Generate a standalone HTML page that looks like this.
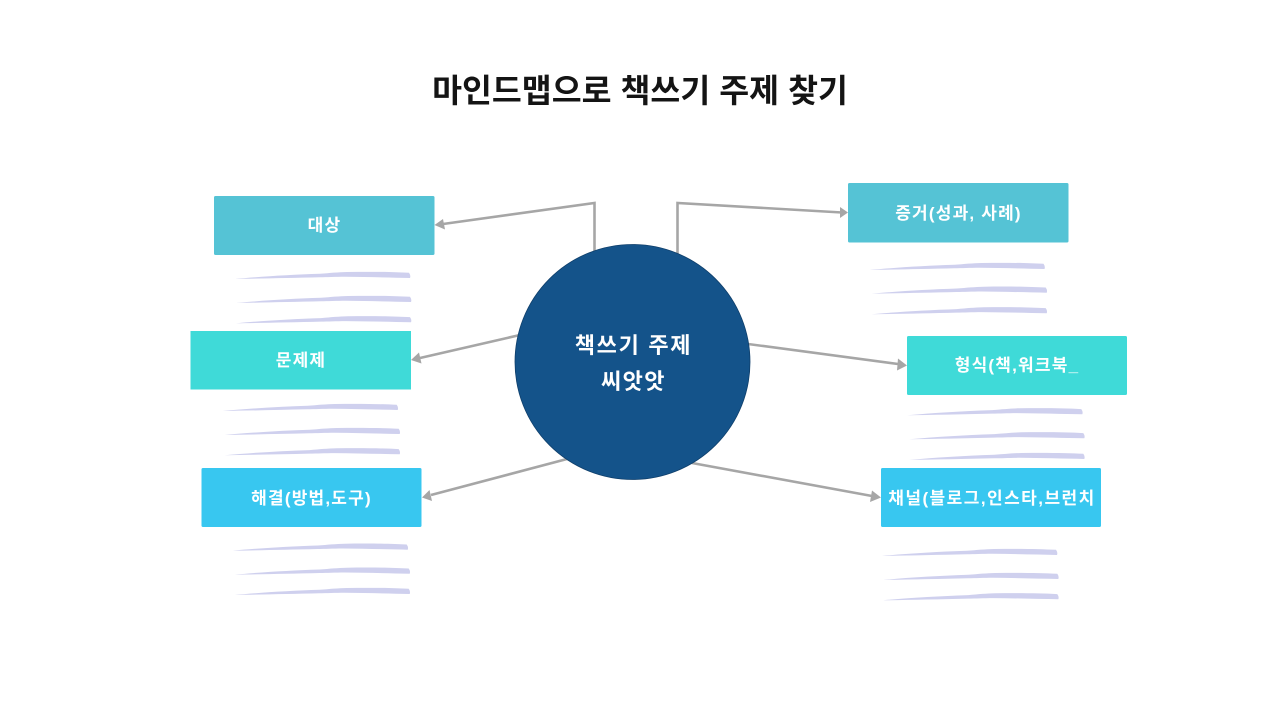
<!DOCTYPE html>
<html lang="ko"><head><meta charset="utf-8">
<style>
html,body{margin:0;padding:0;background:#fff}
svg{display:block}
text{font-family:"Liberation Sans","Noto Sans CJK KR",sans-serif;font-weight:700;text-anchor:middle}
.l{fill:#fff;font-size:17px;letter-spacing:1.2px}
</style></head><body>
<svg width="1280" height="720" viewBox="0 0 1280 720" xmlns="http://www.w3.org/2000/svg">
<defs>
<path id="s" d="M0,0 C25,-2.4 55,-4.2 85,-5.2 C95,-6 103,-6.8 112,-7 C135,-7.4 158,-7.1 174,-6.2 Q176,-3.5 175,-1 C155,-1.4 132,-2 110,-2.2 C100,-2.1 92,-1.8 85,-1.7 C55,-1 25,-0.4 0,0 Z" fill="#cfd0ee"/>
</defs>
<text x="640" y="102" font-size="32.5" fill="#141414">마인드맵으로 책쓰기 주제 찾기</text>

<g fill="none" stroke="#a6a6a6" stroke-width="2.6">
<polyline points="594.5,252 594.5,203 443,224"/>
<polyline points="677.5,254 677.5,203 842,212.5"/>
<line x1="520" y1="335" x2="420" y2="358"/>
<line x1="748" y1="344" x2="898" y2="364"/>
<line x1="567" y1="459" x2="431" y2="495"/>
<line x1="692" y1="463" x2="872" y2="496"/>
</g>
<g fill="#a6a6a6">
<polygon points="434.5,225 443,219 445,229.5"/>
<polygon points="848,212.5 840,207 840,218"/>
<polygon points="411,360 419,352.5 421.5,363.5"/>
<polygon points="907,365.5 898,358.5 897,370.5"/>
<polygon points="422,497.5 429.5,490 432,501"/>
<polygon points="881,497.5 872,490.5 870,502"/>
</g>

<circle cx="632.5" cy="362" r="117.5" fill="#14538a" stroke="#0f3f6b" stroke-width="0.8"/>
<text x="633.5" y="353" style="font-size:22px;fill:#fff;letter-spacing:1.7px">책쓰기 주제</text>
<text x="633.5" y="389" style="font-size:22px;fill:#fff;letter-spacing:1.4px">씨앗앗</text>

<rect x="214" y="196" width="220.5" height="59" rx="1.5" fill="#55c3d5"/>
<rect x="848" y="183" width="220.5" height="59.5" rx="1.5" fill="#55c3d5"/>
<rect x="190.5" y="331" width="220.5" height="58.5" fill="#3fdad8"/>
<rect x="907" y="336" width="220" height="59" rx="1.5" fill="#3fdad8"/>
<rect x="201.5" y="468" width="220" height="59" rx="1.5" fill="#38c7f0"/>
<rect x="881" y="468" width="220" height="59" rx="1.5" fill="#38c7f0"/>

<text class="l" x="324.5" y="231">대상</text>
<text class="l" x="958.5" y="219">증거(성과, 사례)</text>
<text class="l" x="301" y="366">문제제</text>
<text class="l" x="1017" y="371">형식(책,워크북_</text>
<text class="l" x="311.5" y="504">해결(방법,도구)</text>
<text class="l" x="992" y="504" style="letter-spacing:1.45px">채널(블로그,인스타,브런치</text>

<use href="#s" x="235" y="279"/><use href="#s" x="236" y="303"/><use href="#s" x="236" y="323.3"/>
<use href="#s" x="869.5" y="270"/><use href="#s" x="871.7" y="293.7"/><use href="#s" x="871.7" y="314.3"/>
<use href="#s" x="222.7" y="411"/><use href="#s" x="224.7" y="435"/><use href="#s" x="224.7" y="455.3"/>
<use href="#s" x="907.3" y="415.3"/><use href="#s" x="909.3" y="439.3"/><use href="#s" x="909.3" y="460"/>
<use href="#s" x="232.7" y="550.7"/><use href="#s" x="234.7" y="574.7"/><use href="#s" x="234.7" y="595"/>
<use href="#s" x="882" y="556"/><use href="#s" x="883.3" y="580"/><use href="#s" x="883.3" y="600.3"/>
</svg>
</body></html>
